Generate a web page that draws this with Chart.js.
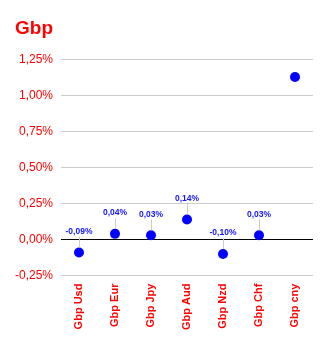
<!DOCTYPE html>
<html>
<head>
<meta charset="utf-8">
<script src="https://cdn.jsdelivr.net/npm/chart.js@4.4.1/dist/chart.umd.min.js"></script>
<style>
  html, body { margin: 0; padding: 0; background: #fff; }
  #wrap { width: 329px; height: 344px; }
</style>
</head>
<body>
<div id="wrap"><canvas id="chart" width="329" height="344"></canvas></div>
<script>
// Datos del gráfico
const pairs = ['Gbp Usd', 'Gbp Eur', 'Gbp Jpy', 'Gbp Aud', 'Gbp Nzd', 'Gbp Chf', 'Gbp cny'];
const changes = [-0.09, 0.04, 0.03, 0.14, -0.10, 0.03, 1.13];
const showLabel = [true, true, true, true, true, true, false];
const yTicks = [-0.25, 0, 0.25, 0.5, 0.75, 1.0, 1.25];

const fmt = v => v.toFixed(2).replace('.', ',') + '%';

// Etiquetas con línea guía encima de cada punto
const pointLabels = {
    id: 'pointLabels',
    afterDatasetsDraw(chart) {
        const ctx = chart.ctx;
        const meta = chart.getDatasetMeta(0);
        ctx.save();
        ctx.font = 'bold 8.5px "Liberation Sans", Arial, sans-serif';
        ctx.textAlign = 'center';
        ctx.textBaseline = 'middle';
        meta.data.forEach((pt, i) => {
            if (!showLabel[i]) return;
            ctx.strokeStyle = '#cccccc';
            ctx.lineWidth = 1;
            ctx.beginPath();
            ctx.moveTo(Math.round(pt.x) + 0.5, pt.y - 16);
            ctx.lineTo(Math.round(pt.x) + 0.5, pt.y - 5);
            ctx.stroke();
            ctx.fillStyle = '#1414ff';
            ctx.fillText(fmt(changes[i]), pt.x, pt.y - 21);
        });
        ctx.restore();
    }
};

new Chart(document.getElementById('chart'), {
    type: 'line',
    data: {
        labels: pairs,
        datasets: [{
            data: changes,
            showLine: false,
            pointRadius: 5,
            pointHoverRadius: 5,
            pointBackgroundColor: '#0000ff',
            pointBorderColor: '#0000ff',
            pointBorderWidth: 0
        }]
    },
    options: {
        responsive: false,
        animation: false,
        layout: { padding: { left: 15, right: 16, top: 0, bottom: 14 } },
        plugins: {
            legend: { display: false },
            tooltip: { enabled: false },
            title: {
                display: true,
                text: 'Gbp',
                align: 'start',
                color: '#ff0000',
                font: { family: '"Liberation Sans", Arial, sans-serif', size: 19, weight: 'bold' },
                padding: { top: 17, bottom: 20 }
            }
        },
        scales: {
            x: {
                offset: true,
                grid: { display: false },
                border: { display: false },
                ticks: {
                    color: '#ff0000',
                    maxRotation: 90,
                    minRotation: 90,
                    padding: 0,
                    font: { family: '"Liberation Sans", Arial, sans-serif', size: 11, weight: 'bold' }
                }
            },
            y: {
                min: -0.25,
                max: 1.25,
                afterBuildTicks: axis => { axis.ticks = yTicks.map(v => ({ value: v })); },
                afterFit: axis => { axis.width = 46; },
                border: { display: false },
                grid: {
                    drawTicks: false,
                    color: c => c.tick && c.tick.value === 0 ? '#000000' : '#cccccc'
                },
                ticks: {
                    color: '#ff0000',
                    padding: 8,
                    callback: v => fmt(v),
                    font: { family: '"Liberation Sans", Arial, sans-serif', size: 12 }
                }
            }
        }
    },
    plugins: [pointLabels]
});
</script>
</body>
</html>
